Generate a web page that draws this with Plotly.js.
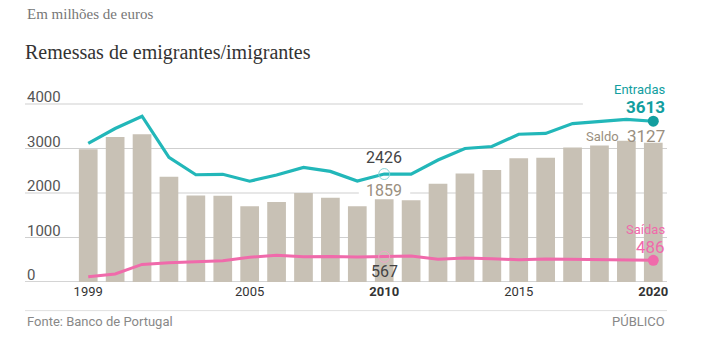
<!DOCTYPE html>
<html>
<head>
<meta charset="utf-8">
<script src="https://cdn.plot.ly/plotly-3.0.1.min.js"></script>
<style>html,body{margin:0;padding:0;background:#fff;}#chart{width:716px;height:351px;}</style>
</head>
<body>
<div id="chart"></div>
<script>
const years = [1999,2000,2001,2002,2003,2004,2005,2006,2007,2008,2009,2010,2011,2012,2013,2014,2015,2016,2017,2018,2019,2020];
const saldo = [2985,3260,3320,2365,1945,1940,1700,1800,2000,1895,1705,1859,1835,2210,2440,2515,2780,2795,3025,3065,3175,3127];
const entradas = [3115,3450,3725,2800,2410,2420,2265,2405,2575,2485,2270,2426,2425,2740,3000,3045,3320,3340,3560,3600,3655,3613];
const saidas = [120,180,395,435,455,480,555,600,570,575,560,567,585,510,540,525,500,515,505,510,490,486];
const yTicks = [0,1000,2000,3000,4000];
const yTickText = ['0','1000','2000','3000','4000'];
const xTicks = [1999,2005,2010,2015,2020];
const xTickText = ['1999','2005','<b>2010</b>','2015','<b>2020</b>'];
const highlightYear = 2010;
const lastYear = 2020;

const TEAL = '#22b7b9', TEAL_DARK = '#129e9f', PINK = '#f06aab', BAR = '#c8c1b5', SALDO_TXT = '#9a8f80';
const FONT = 'Roboto, "Open Sans", sans-serif';

const iH = years.indexOf(highlightYear), iL = years.indexOf(lastYear);

const traces = [
  {type:'bar', x:years, y:saldo, width:0.695, marker:{color:BAR}, hoverinfo:'skip'},
  {type:'scatter', mode:'lines', x:years, y:entradas, line:{color:TEAL, width:3.2}, hoverinfo:'skip'},
  {type:'scatter', mode:'lines', x:years, y:saidas, line:{color:PINK, width:3}, hoverinfo:'skip'},
  {type:'scatter', mode:'markers', x:[highlightYear], y:[entradas[iH]], marker:{symbol:'circle-open', size:11, color:'#8ad6d8', line:{width:1}}, hoverinfo:'skip'},
  {type:'scatter', mode:'markers', x:[highlightYear], y:[saidas[iH]], marker:{symbol:'circle-open', size:11, color:'#f2a3c9', line:{width:1}}, hoverinfo:'skip'},
  {type:'scatter', mode:'markers', x:[lastYear], y:[entradas[iL]], marker:{size:11, color:TEAL_DARK}, hoverinfo:'skip'},
  {type:'scatter', mode:'markers', x:[lastYear], y:[saidas[iL]], marker:{size:11, color:PINK}, hoverinfo:'skip'}
];

const shapes = [];
yTicks.forEach(v => {
  const base = {type:'line', xref:'paper', yref:'y', y0:v, y1:v, layer:'below', line:{color: v===0 ? '#d4d4d4' : '#cfcfcf', width: v===0 ? 2 : 1}};
  if (v === 4000) {
    shapes.push(Object.assign({}, base, {x0:0, x1:0.869}));
  } else if (v === 2000) {
    shapes.push(Object.assign({}, base, {x0:0, x1:0.52}));
    shapes.push(Object.assign({}, base, {x0:0.6, x1:1}));
  } else {
    shapes.push(Object.assign({}, base, {x0:0, x1:1}));
  }
});
// footer separator
shapes.push({type:'line', xref:'paper', yref:'paper', x0:0, x1:1, y0:-0.13, y1:-0.13, line:{color:'#e0e0e0', width:1}});

const annotations = [];
yTicks.forEach((v, k) => {
  annotations.push({xref:'paper', yref:'y', x:0, y:v, xanchor:'left', yanchor:'bottom', yshift:-4, showarrow:false, text:yTickText[k], font:{family:FONT, size:15, color:'#555'}});
});
annotations.push(
  {xref:'paper', yref:'paper', x:0, y:1, yshift:48, xanchor:'left', yanchor:'middle', showarrow:false, text:'Em milhões de euros', font:{family:'"Liberation Serif", serif', size:15, color:'#777'}},
  {xref:'x', yref:'y', x:highlightYear, y:entradas[iH], yshift:17, yanchor:'middle', showarrow:false, text:String(entradas[iH]), font:{family:FONT, size:16, color:'#444'}},
  {xref:'x', yref:'y', x:highlightYear, y:saldo[iH], yshift:9, yanchor:'middle', showarrow:false, text:String(saldo[iH]), font:{family:FONT, size:16, color:SALDO_TXT}},
  {xref:'x', yref:'y', x:highlightYear, y:saidas[iH], yshift:-15, yanchor:'middle', showarrow:false, text:String(saidas[iH]), font:{family:FONT, size:16, color:'#444'}},
  {xref:'paper', yref:'y', x:1, y:entradas[iL], yshift:32, xanchor:'right', yanchor:'middle', showarrow:false, text:'Entradas', font:{family:FONT, size:13, color:TEAL_DARK}},
  {xref:'paper', yref:'y', x:1, y:entradas[iL], yshift:14, xanchor:'right', yanchor:'middle', showarrow:false, text:'<b>'+entradas[iL]+'</b>', font:{family:FONT, size:17, color:TEAL_DARK}},
  {xref:'paper', yref:'y', x:1, y:saldo[iL], yshift:7, xanchor:'right', yanchor:'middle', showarrow:false, text:String(saldo[iL]), font:{family:FONT, size:17, color:SALDO_TXT}},
  {xref:'paper', yref:'y', x:1, y:saldo[iL], yshift:6, xshift:-46, xanchor:'right', yanchor:'middle', showarrow:false, text:'Saldo', font:{family:FONT, size:13, color:SALDO_TXT}},
  {xref:'paper', yref:'y', x:1, y:saidas[iL], yshift:31, xanchor:'right', yanchor:'middle', showarrow:false, text:'Saídas', font:{family:FONT, size:13, color:PINK}},
  {xref:'paper', yref:'y', x:1, y:saidas[iL], yshift:13, xanchor:'right', yanchor:'middle', showarrow:false, text:String(saidas[iL]), font:{family:FONT, size:17, color:PINK}},
  {xref:'paper', yref:'paper', x:0, y:-0.18, xanchor:'left', yanchor:'middle', showarrow:false, text:'Fonte: Banco de Portugal', font:{family:FONT, size:13, color:'#888'}},
  {xref:'paper', yref:'paper', x:1, y:-0.18, xanchor:'right', yanchor:'middle', showarrow:false, text:'PÚBLICO', font:{family:FONT, size:13, color:'#888'}}
);

const layout = {
  width:716, height:351,
  margin:{l:25, r:49, t:62, b:69},
  paper_bgcolor:'#fff', plot_bgcolor:'#fff',
  showlegend:false,
  title:{text:'Remessas de emigrantes/imigrantes', xref:'container', yref:'container', x:25/716, xanchor:'left', y:1-52/351, yanchor:'middle', font:{family:'"Liberation Serif", serif', size:20, color:'#333'}},
  xaxis:{range:[1996.65, 2020.51], tickvals:xTicks, ticktext:xTickText, showgrid:false, zeroline:false, showline:false, ticks:'', tickfont:{family:FONT, size:13, color:'#333'}, fixedrange:true},
  yaxis:{range:[0, 4944], showgrid:false, zeroline:false, showline:false, showticklabels:false, ticks:'', fixedrange:true},
  shapes:shapes,
  annotations:annotations
};

Plotly.newPlot('chart', traces, layout, {displayModeBar:false, staticPlot:true});
</script>
</body>
</html>
